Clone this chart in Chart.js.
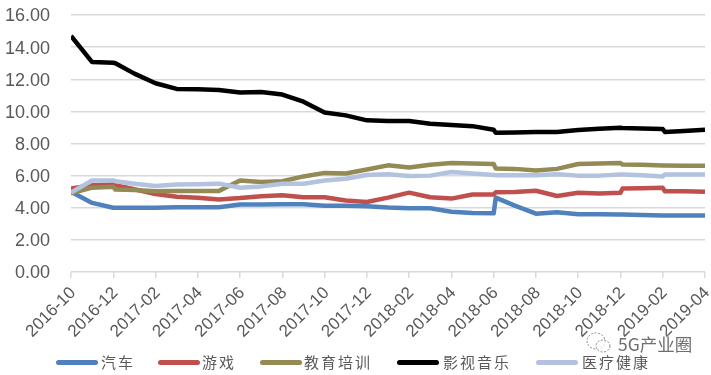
<!DOCTYPE html>
<html><head><meta charset="utf-8">
<script src="https://cdn.jsdelivr.net/npm/chart.js@4"></script>
<style>
html,body{margin:0;padding:0;background:#fff}
#w{position:relative;width:711px;height:375px;overflow:hidden}
#c{display:block}
#mark{position:absolute;left:618px;top:332px;font:17.5px/24px "Noto Sans CJK SC",sans-serif;color:#6f6f6f;text-shadow:0 0 2px #fff,0 0 3px #fff}
#icon{position:absolute;left:585px;top:331px}
.k{position:absolute;top:352px;height:20px;font:15px/20px "Noto Sans CJK SC",sans-serif;letter-spacing:2px;color:#595959;white-space:nowrap}
.s{position:absolute;top:360px;height:5px;width:42px;border-radius:2.5px}
</style></head><body>
<div id="w"><canvas id="c" width="711" height="375"></canvas>
<svg id="icon" width="28" height="24" viewBox="0 0 28 24" fill="#fff" fill-opacity=".7" stroke="#8a8a8a" stroke-width="1" stroke-dasharray="2 1.5"><ellipse cx="11" cy="10" rx="9" ry="8"/><ellipse cx="18" cy="15" rx="7" ry="6"/></svg>
<span id="mark">5G产业圈</span></div>
<script>
const tickLabels=["2016-10","2016-12","2017-02","2017-04","2017-06","2017-08","2017-10","2017-12","2018-02","2018-04","2018-06","2018-08","2018-10","2018-12","2019-02","2019-04"];
const months=[0,1,2,2.1,3,4,5,6,7,8,9,10,11,12,13,14,15,16,17,18,19,20,20.1,21,22,23,24,25,26,26.1,27,28,28.1,29,30];
const auto=[5.0,4.3,4.0,4.0,4.0,4.0,4.03,4.03,4.03,4.2,4.2,4.22,4.22,4.13,4.12,4.09,4.01,3.97,3.97,3.75,3.67,3.65,4.63,4.13,3.63,3.72,3.6,3.6,3.58,3.58,3.55,3.52,3.52,3.52,3.52];
const games=[5.2,5.4,5.45,5.4,5.15,4.85,4.68,4.62,4.52,4.6,4.72,4.78,4.65,4.65,4.45,4.36,4.63,4.94,4.65,4.57,4.82,4.82,4.96,4.98,5.06,4.73,4.93,4.89,4.93,5.2,5.22,5.24,5.03,5.02,5.0];
const education=[4.9,5.25,5.3,5.13,5.1,5.03,5.05,5.05,5.05,5.7,5.6,5.65,5.95,6.17,6.13,6.38,6.64,6.51,6.68,6.78,6.75,6.72,6.45,6.42,6.32,6.42,6.72,6.75,6.78,6.69,6.67,6.63,6.63,6.62,6.62];
const media=[14.7,13.07,13.03,13.0,12.35,11.75,11.4,11.38,11.33,11.17,11.2,11.05,10.6,9.93,9.75,9.44,9.4,9.4,9.23,9.15,9.08,8.86,8.67,8.68,8.71,8.72,8.84,8.92,8.98,8.97,8.93,8.9,8.72,8.78,8.85];
const health=[4.95,5.7,5.7,5.65,5.5,5.35,5.45,5.47,5.5,5.25,5.33,5.5,5.5,5.7,5.8,6.04,6.08,5.97,6.0,6.22,6.13,6.04,6.03,6.03,6.03,6.08,6.0,6.0,6.07,6.07,6.03,5.95,6.07,6.07,6.07];
const names=["汽车","游戏","教育培训","影视音乐","医疗健康"];
const colors=["#4F81BD","#C0504D","#948A54","#000000","#B3C2DF"];
const series=[auto,games,education,media,health];
const ink="#595959", grid="#D9D9D9";
const legendSwatchX=[56,158,260,397,536];
const legendTextX=[101,202,304,443,582];
const host=document.getElementById('w');
names.forEach((n,i)=>{
 const s=document.createElement('div');s.className='s';s.style.left=legendSwatchX[i]+'px';s.style.background=colors[i];host.appendChild(s);
 const t=document.createElement('div');t.className='k';t.style.left=legendTextX[i]+'px';t.textContent=n;host.appendChild(t);
});
new Chart(document.getElementById('c'),{
 type:'line',
 data:{datasets:series.map((s,i)=>({label:names[i],data:s.map((v,k)=>({x:months[k],y:v})),borderColor:colors[i],backgroundColor:colors[i],borderWidth:4.5,pointRadius:0,tension:0,borderJoinStyle:'round',borderCapStyle:'butt',order:series.length-i}))},
 options:{responsive:false,animation:false,
  layout:{padding:{top:15,right:6,left:0,bottom:0}},
  plugins:{tooltip:{enabled:false},legend:{display:false}},
  scales:{
   x:{type:'linear',min:0,max:30,
    afterFit(a){a.height=103;a.paddingLeft=0;a.paddingRight=0},
    grid:{drawOnChartArea:false,drawTicks:true,tickLength:6,color:grid,lineWidth:1.5},
    border:{display:false},
    ticks:{stepSize:2,autoSkip:false,maxRotation:45,minRotation:45,padding:5,labelOffset:2,color:ink,font:{family:'"Liberation Sans"',size:17},callback:v=>tickLabels[v/2]}},
   y:{min:0,max:16,
    afterFit(a){a.width=71;a.paddingTop=0;a.paddingBottom=0},
    grid:{color:grid,lineWidth:1.5,drawTicks:false},
    border:{display:false},
    ticks:{stepSize:2,padding:21,labelOffset:1.5,color:ink,font:{family:'"Liberation Sans"',size:18},callback:v=>v.toFixed(2)}}
  }}
});
</script></body></html>
